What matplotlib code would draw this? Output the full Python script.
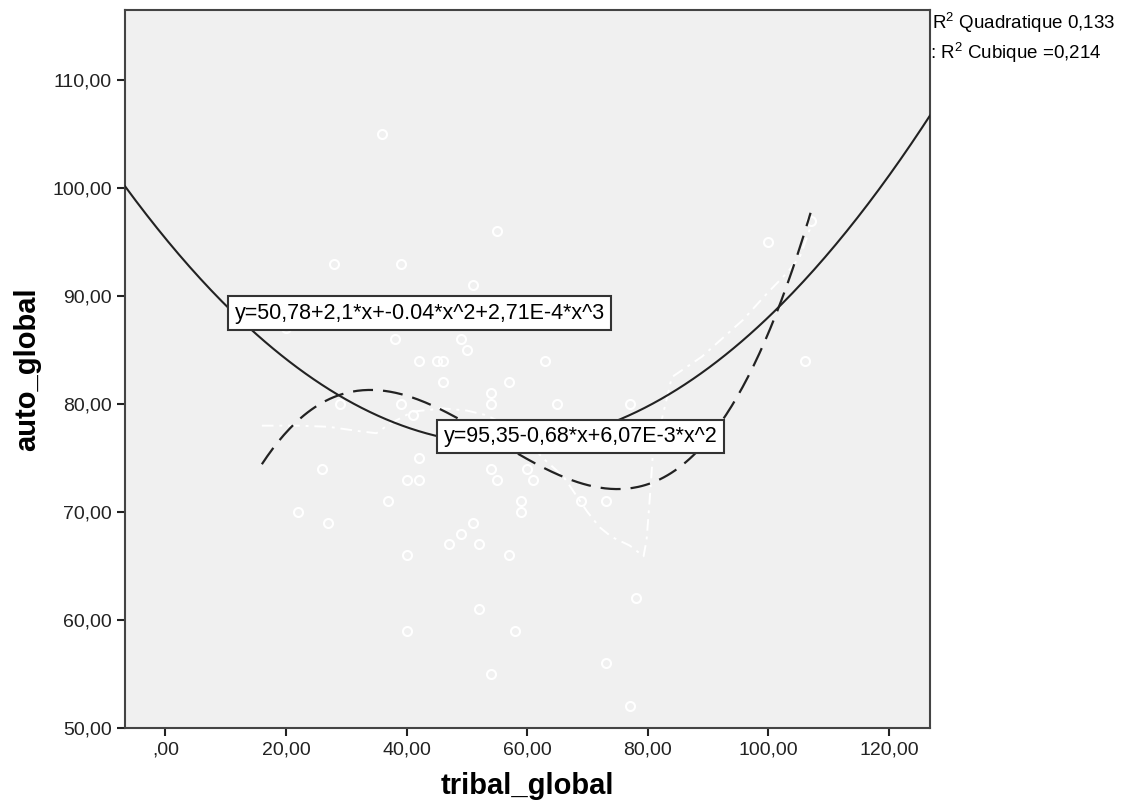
import numpy as np
import matplotlib.pyplot as plt

plt.rcParams['font.family'] = ['Liberation Sans', 'DejaVu Sans']
plt.rcParams['mathtext.fontset'] = 'custom'
plt.rcParams['mathtext.rm'] = 'Liberation Sans'

# scatter points
tribal = [36, 55, 39, 28, 51, 38, 49, 50, 20, 42, 45, 46, 63, 46, 57, 54, 29, 39,
          54, 65, 77, 41, 42, 26, 54, 60, 40, 42, 55, 61, 22, 27, 37, 59, 59, 69,
          73, 51, 49, 47, 52, 40, 57, 52, 78, 40, 58, 73, 77, 100, 107, 106, 54]
auto = [105, 96, 93, 93, 91, 86, 86, 85, 87, 84, 84, 84, 84, 82, 82, 81, 80, 80,
        80, 80, 80, 79, 75, 74, 74, 74, 73, 73, 73, 73, 70, 69, 71, 71, 70, 71,
        71, 69, 68, 67, 67, 66, 66, 61, 62, 59, 59, 56, 52, 95, 97, 84, 55]

# fitted curves (coefficients, constant first)
quad_coef = [95.35, -0.68, 6.07e-3]
cubic_coef = [51.83, 2.0425, -0.04365, 2.67e-4]
cubic_span = (16, 107)

# white smoothed line
smooth_x = [16, 22, 27, 32, 35, 37, 41, 46, 50, 53, 57, 60, 63, 66, 70, 72, 74,
            77, 79.3, 79.8, 80.3, 80.8, 84, 89, 91.4, 95.8, 99.7, 103, 105.2, 107.2]
smooth_y = [78, 78, 77.9, 77.5, 77.3, 78.1, 79.3, 79.6, 79.4, 79, 78, 76.5, 74.8,
            73.3, 70, 68.6, 67.7, 66.9, 65.9, 67.4, 71, 75, 82.5, 84.4, 85.6, 87.8,
            90.2, 92.1, 93.6, 96.7]

xticks = [0, 20, 40, 60, 80, 100, 120]
yticks = [50, 60, 70, 80, 90, 100, 110]
xlim = (-6.7, 126.8)
ylim = (50, 116.5)


def fmt(v):
    s = f'{v:.2f}'.replace('.', ',')
    return s[1:] if s.startswith('0') else s


fig = plt.figure(figsize=(11.29, 8.06), dpi=100)
ax = fig.add_axes([0.1107, 0.0968, 0.713, 0.8908])
ax.set_facecolor('#f0f0f0')

ax.plot(tribal, auto, 'o', ms=6.5, mfc='none', mec='white', mew=1.5, zorder=2)

xq = np.linspace(xlim[0], xlim[1], 300)
yq = np.polyval(quad_coef[::-1], xq)
ax.plot(xq, yq, color='#222222', lw=1.5, zorder=3)

xc = np.linspace(cubic_span[0], cubic_span[1], 300)
yc = np.polyval(cubic_coef[::-1], xc)
ax.plot(xc, yc, color='#222222', lw=1.6, dashes=(9, 4.5), zorder=3)

ax.plot(smooth_x, smooth_y, color='white', lw=1.4, dashes=(6, 3, 1.5, 3), zorder=2)

box = dict(boxstyle='square,pad=0.3', fc='white', ec='#333333', lw=1.5)
ax.text(42.2, 88.4, 'y=50,78+2,1*x+-0.04*x^2+2,71E-4*x^3', fontsize=15.5,
        ha='center', va='center', bbox=box, zorder=5)
ax.text(68.9, 77.0, 'y=95,35-0,68*x+6,07E-3*x^2', fontsize=15.5,
        ha='center', va='center', bbox=box, zorder=5)

ax.set_xlim(*xlim)
ax.set_ylim(*ylim)
ax.set_xticks(xticks)
ax.set_xticklabels([fmt(v) for v in xticks])
ax.set_yticks(yticks)
ax.set_yticklabels([fmt(v) for v in yticks])
ax.tick_params(direction='out', length=6, width=1.5, labelsize=14, colors='#222222')

for side in ['left', 'right', 'top', 'bottom']:
    ax.spines[side].set_color('#444444')
    ax.spines[side].set_linewidth(1.5)

ax.set_xlabel('tribal_global', fontsize=21, fontweight='bold', labelpad=10)
ax.set_ylabel('auto_global', fontsize=21, fontweight='bold', labelpad=8)

fig.text(0.8255, 0.972, 'R$^2$ Quadratique 0,133', fontsize=13.5, va='center')
fig.text(0.8240, 0.935, ': R$^2$ Cubique =0,214', fontsize=13.5, va='center')

fig.savefig('out.png', dpi=100)
